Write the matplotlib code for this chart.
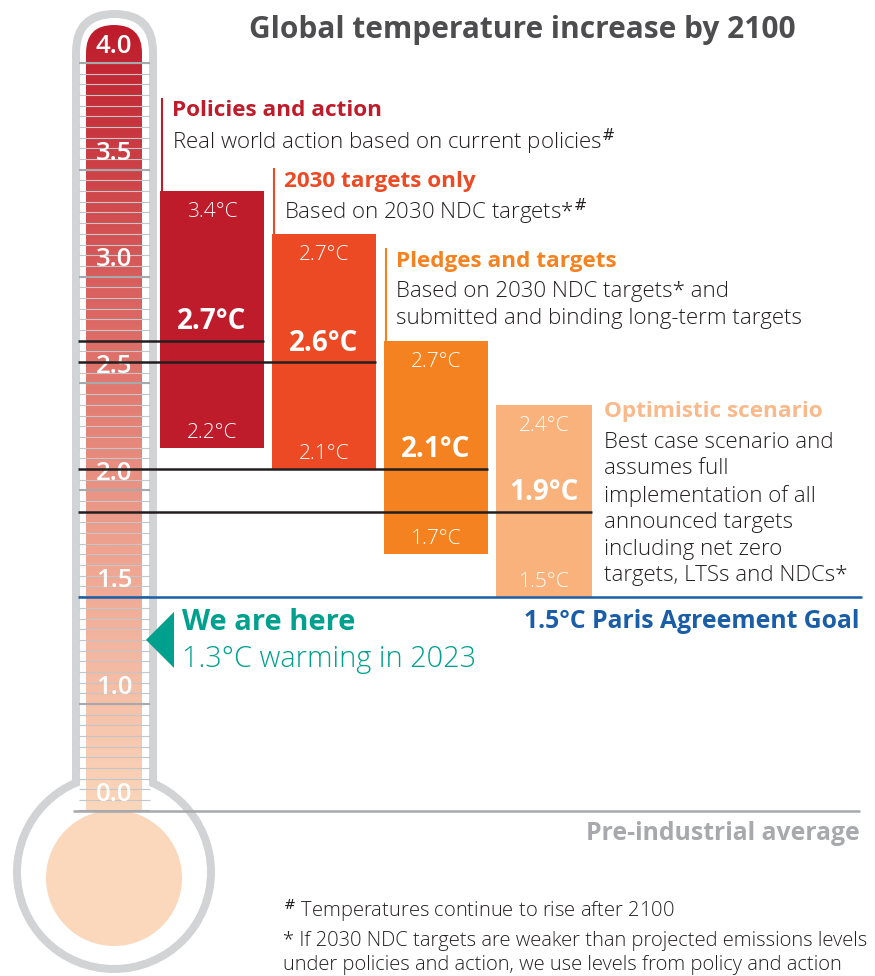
import numpy as np
import matplotlib
matplotlib.use("Agg")
import matplotlib.pyplot as plt
from matplotlib.patches import FancyBboxPatch, Circle, Polygon, Rectangle
from matplotlib.colors import LinearSegmentedColormap

plt.rcParams['font.family'] = ['Open Sans', 'DejaVu Sans']

# ---------------- data ----------------
scenarios = ["Policies and action", "2030 targets only", "Pledges and targets", "Optimistic scenario"]
descriptions = [
    r"Real world action based on current policies$^{\#}$",
    r"Based on 2030 NDC targets*$^{\#}$",
    "Based on 2030 NDC targets* and\nsubmitted and binding long-term targets",
    "Best case scenario and\nassumes full\nimplementation of all\nannounced targets\nincluding net zero\ntargets, LTSs and NDCs*",
]
range_low = [2.2, 2.1, 1.7, 1.5]
range_high = [3.4, 3.2, 2.7, 2.4]
median_temp = [2.7, 2.6, 2.1, 1.9]
top_labels = ["3.4°C", "2.7°C", "2.7°C", "2.4°C"]
scale_labels = [0.0, 1.0, 1.5, 2.0, 2.5, 3.0, 3.5, 4.0]
current_warming = 1.3
current_year = 2023
paris_goal = 1.5
preindustrial = 0.0
title = "Global temperature increase by 2100"
footnotes = [
    r"$^{\#}$ Temperatures continue to rise after 2100",
    "* If 2030 NDC targets are weaker than projected emissions levels",
    "under policies and action, we use levels from policy and action",
]

# ---------------- style / layout ----------------
bar_colors = ["#be1c2b", "#ec4a24", "#f58220", "#f9b27b"]
head_colors = ["#be1c2b", "#ec4a24", "#f58220", "#f9b98b"]
TEAL = "#00a08f"
BLUE = "#1a5ea8"
GRAYLINE = "#a7a9ac"
TUBE = "#d1d3d4"
TEXT = "#231f20"
BODY_W = 'light'

W, H = 875, 976
PX_PER_DEG = 213.7
Y1_PX = 704.0


def tz(t):
    """temperature -> axis units (scale compressed below 1.0 °C)"""
    return t if t >= 1 else 0.5 + 0.5 * t


def px2t(p):
    return 1 + (Y1_PX - p) / PX_PER_DEG


fig = plt.figure(figsize=(W / 100, H / 100), dpi=100)
dx = fig.add_axes([0, 0, 1, 1], zorder=1)
dx.set_xlim(0, W)
dx.set_ylim(H, 0)
dx.axis('off')
ax = fig.add_axes([0, 0, 1, 1], zorder=2)
ax.set_xlim(0, W)
ax.set_ylim(px2t(H), px2t(0))
ax.axis('off')
ax.patch.set_alpha(0)

# ---------------- thermometer body ----------------
dx.add_patch(FancyBboxPatch((72, 10), 85, 830, boxstyle="round,pad=0,rounding_size=42.5",
                            fc=TUBE, ec='none'))
dx.add_patch(Circle((114, 872), 101, fc=TUBE, ec='none'))
dx.add_patch(FancyBboxPatch((80, 18), 69, 830, boxstyle="round,pad=0,rounding_size=34.5",
                            fc='white', ec='none'))
dx.add_patch(Circle((114, 872), 93, fc='white', ec='none'))

cmap = LinearSegmentedColormap.from_list("th", ["#be1c2b", "#d9605e", "#eea28f", "#fad6bb"])
grad = np.linspace(0, 1, 400).reshape(-1, 1)
im = dx.imshow(grad, cmap=cmap, extent=(86, 142, 810, 25), origin='upper', aspect='auto',
               interpolation='bilinear', zorder=2)
clip = FancyBboxPatch((86, 25), 56, 840, boxstyle="round,pad=0,rounding_size=28",
                      transform=dx.transData, fc='none', ec='none')
im.set_clip_path(clip)
bulb = Circle((114, 878), 68, fc="#fbd8bb", ec='none', zorder=2)
dx.add_patch(bulb)
bulb.set_clip_path(Rectangle((0, 810), 300, 200, transform=dx.transData))

# scale ticks
minor = np.arange(0.5, 4.0001, 0.05)
ax.hlines(minor, 79, 150, color="#c3c5c7", lw=0.8, zorder=1)
ax.hlines([tz(v) for v in scale_labels], 79, 150, color=GRAYLINE, lw=1.5, zorder=1)
for v in scale_labels:
    ax.text(114, tz(v) + 0.078, f"{v:.1f}", color='white', ha='center', va='center',
            fontsize=18.5, fontweight='semibold', zorder=2)

# ---------------- bars ----------------
bar_left = [160 + 112 * i for i in range(len(scenarios))]
bar_w = [104, 104, 104, 96]
heights = [h - l for h, l in zip(range_high, range_low)]
ax.bar(bar_left, heights, bottom=range_low, width=bar_w, align='edge', color=bar_colors, zorder=3)
rights = [l + w for l, w in zip(bar_left, bar_w)]
ax.hlines(median_temp, 78, rights, color=TEXT, lw=1.8, zorder=5)

for i in range(len(scenarios)):
    cx = bar_left[i] + bar_w[i] / 2
    ax.annotate(top_labels[i], (cx, range_high[i]), xytext=(0, -21), textcoords='offset pixels',
                ha='center', va='center', color='white', fontsize=15, fontweight=BODY_W, zorder=6)
    ax.annotate(f"{range_low[i]:.1f}°C", (cx, range_low[i]), xytext=(0, 15), textcoords='offset pixels',
                ha='center', va='center', color='white', fontsize=15, fontweight=BODY_W, zorder=6)
    ax.annotate(f"{median_temp[i]:.1f}°C", (cx, median_temp[i]), xytext=(0, 19), textcoords='offset pixels',
                ha='center', va='center', color='white', fontsize=20, fontweight='bold', zorder=6)

# headings & descriptions
head_pos = [(172, 111), (284, 181), (396, 261), (604, 411)]
line_h = 26.8
for i, (hx, hy) in enumerate(head_pos):
    dx.text(hx, hy, scenarios[i], color=head_colors[i], fontsize=16.2, fontweight='bold',
            ha='left', va='center')
    for j, line in enumerate(descriptions[i].split("\n")):
        dx.text(hx, hy + 31 + j * line_h, line, color=TEXT, fontsize=16, fontweight=BODY_W,
                ha='left', va='center')
    if i < 3:
        ax.vlines(bar_left[i] + 1.5, range_high[i], px2t(hy - 13), color=head_colors[i], lw=1.5, zorder=3)

# reference lines
ax.hlines(paris_goal, 78, 862, color=BLUE, lw=1.8, zorder=4)
ax.annotate(f"{paris_goal:.1f}°C Paris Agreement Goal", (860, paris_goal), xytext=(0, -24),
            textcoords='offset pixels', ha='right', va='center', color=BLUE, fontsize=17.8,
            fontweight='bold')
ax.hlines(tz(preindustrial), 73, 860, color=GRAYLINE, lw=1.8, zorder=4)
ax.annotate("Pre-industrial average", (860, tz(preindustrial)), xytext=(0, -23),
            textcoords='offset pixels', ha='right', va='center', color=GRAYLINE, fontsize=17.8,
            fontweight='bold')

# we are here
dtri = 28 / PX_PER_DEG
ax.add_patch(Polygon([(146, current_warming), (174, current_warming + dtri), (174, current_warming - dtri)],
                     closed=True, fc=TEAL, ec='none', zorder=4))
ax.annotate("We are here", (182, current_warming), xytext=(0, 17), textcoords='offset pixels',
            ha='left', va='center', color=TEAL, fontsize=21, fontweight='bold')
ax.annotate(f"{current_warming:.1f}°C warming in {current_year}", (182, current_warming), xytext=(0, -19),
            textcoords='offset pixels', ha='left', va='center', color=TEAL, fontsize=20.8, fontweight=BODY_W)

# title & footnotes
dx.text(522, 30, title, ha='center', va='center', color="#4d4d4f", fontsize=21.5, fontweight='bold')
for k, (fy, ft) in enumerate(zip([911, 941, 965], footnotes)):
    dx.text(283, fy, ft, ha='left', va='center', color=TEXT, fontsize=14.5, fontweight=BODY_W)

fig.savefig("out.png", dpi=100)
